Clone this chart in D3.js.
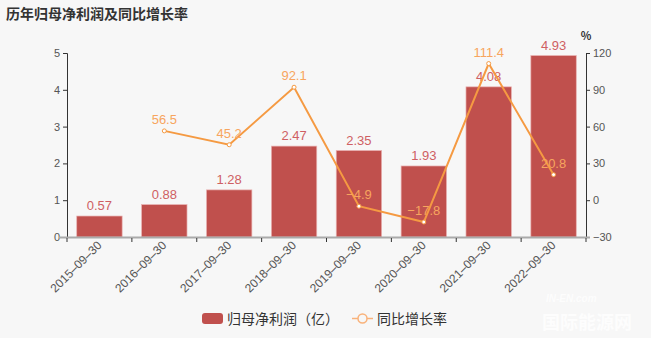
<!DOCTYPE html>
<html>
<head>
<meta charset="utf-8">
<script src="https://cdn.jsdelivr.net/npm/d3@7/dist/d3.min.js"></script>
<style>
  html, body { margin: 0; padding: 0; background: #f7f7f7; }
  svg { display: block; font-family: "Noto Sans CJK SC", "Liberation Sans", Arial, sans-serif; }
</style>
</head>
<body>
<svg id="chart" width="651" height="338"></svg>
<script>
// Reporting dates (fiscal Q3 each year)
const periods = ["2015-09-30", "2016-09-30", "2017-09-30", "2018-09-30", "2019-09-30", "2020-09-30", "2021-09-30", "2022-09-30"];
// Net profit attributable to parent (亿元)
const netProfit = [0.57, 0.88, 1.28, 2.47, 2.35, 1.93, 4.08, 4.93];
// Year-over-year growth (%), none for the first period
const growth = [null, 56.5, 45.2, 92.1, -4.9, -17.8, 111.4, 20.8];
const leftTicks = [0, 1, 2, 3, 4, 5];
const rightTicks = [-30, 0, 30, 60, 90, 120];

const svg = d3.select("#chart");
const W = 651, H = 338;
const m = { left: 67, right: 65, top: 53, bottom: 101 };
const x0 = m.left, x1 = W - m.right, yTop = m.top, yBot = H - m.bottom;

const barColor = "#c0504d";
const barLabelColor = "#cf5f63";
const lineColor = "#f59a42";
const lineLabelColor = "#f7a55e";
const axisText = "#555";

svg.append("rect").attr("width", W).attr("height", H).attr("fill", "#f7f7f7");

// Title
svg.append("text")
  .attr("x", 6).attr("y", 19)
  .attr("font-size", 14).attr("font-weight", "bold").attr("fill", "#333")
  .text("历年归母净利润及同比增长率");

const x = d3.scaleBand().domain(periods).range([x0, x1]).paddingInner(0.3).paddingOuter(0.15);
const yL = d3.scaleLinear().domain([0, 5]).range([yBot, yTop]);
const yR = d3.scaleLinear().domain([-30, 120]).range([yBot, yTop]);

// Left axis
const gL = svg.append("g").attr("transform", `translate(${x0},0)`)
  .call(d3.axisLeft(yL).tickValues(leftTicks).tickSize(4).tickPadding(3).tickFormat(d3.format("d")));
gL.select(".domain").attr("stroke", "#333");
gL.selectAll(".tick line").attr("stroke", "#333");
gL.selectAll(".tick text").attr("font-size", 11).attr("fill", axisText).attr("font-family", "Liberation Sans, Arial, sans-serif");

// Right axis
const gR = svg.append("g").attr("transform", `translate(${x1},0)`)
  .call(d3.axisRight(yR).tickValues(rightTicks).tickSize(4).tickPadding(3)
    .tickFormat(d => d < 0 ? "\u2212" + Math.abs(d) : d));
gR.select(".domain").attr("stroke", "#333");
gR.selectAll(".tick line").attr("stroke", "#333");
gR.selectAll(".tick text").attr("font-size", 11).attr("fill", axisText).attr("font-family", "Liberation Sans, Arial, sans-serif");

svg.append("text").attr("x", x1).attr("y", 40).attr("text-anchor", "middle")
  .attr("font-size", 11).attr("font-weight", "bold").attr("fill", "#333").text("%");

// Bars
svg.append("g").selectAll("rect").data(periods).join("rect")
  .attr("x", d => x(d))
  .attr("y", (d, i) => yL(netProfit[i]))
  .attr("width", x.bandwidth())
  .attr("height", (d, i) => yBot - yL(netProfit[i]))
  .attr("fill", barColor)
  .attr("stroke", "#e9b3b2").attr("stroke-width", 0.7);

// Bar value labels
svg.append("g").selectAll("text").data(periods).join("text")
  .attr("x", d => x(d) + x.bandwidth() / 2)
  .attr("y", (d, i) => yL(netProfit[i]) - 6)
  .attr("text-anchor", "middle")
  .attr("font-size", 13).attr("fill", barLabelColor)
  .attr("font-family", "Liberation Sans, Arial, sans-serif")
  .text((d, i) => netProfit[i].toFixed(2));

// Bottom axis (category ticks on the full band)
const xTickScale = d3.scalePoint().domain(d3.range(periods.length + 1)).range([x0, x1]);
svg.append("line").attr("x1", x0 - 8).attr("x2", x1 + 4).attr("y1", yBot + 0.5).attr("y2", yBot + 0.5)
  .attr("stroke", "#aaa").attr("stroke-width", 2);
svg.append("g").selectAll("line").data(xTickScale.domain()).join("line")
  .attr("x1", d => xTickScale(d)).attr("x2", d => xTickScale(d))
  .attr("y1", yBot + 1).attr("y2", yBot + 5).attr("stroke", "#333");

svg.append("g").selectAll("text").data(periods).join("text")
  .attr("transform", d => `translate(${x(d) + x.bandwidth() / 2 + 3},${yBot + 9}) rotate(-45)`)
  .attr("text-anchor", "end")
  .attr("font-size", 12).attr("fill", axisText)
  .attr("font-family", "Liberation Sans, Arial, sans-serif")
  .text(d => d.replace(/-/g, "\u2013"));

// Growth line
const pts = periods.map((d, i) => ({ d, v: growth[i] })).filter(p => p.v !== null);
const line = d3.line().x(p => x(p.d) + x.bandwidth() / 2).y(p => yR(p.v));
svg.append("path").datum(pts).attr("d", line)
  .attr("fill", "none").attr("stroke", lineColor).attr("stroke-width", 2);
svg.append("g").selectAll("circle").data(pts).join("circle")
  .attr("cx", p => x(p.d) + x.bandwidth() / 2).attr("cy", p => yR(p.v)).attr("r", 2)
  .attr("fill", "#fff").attr("stroke", lineColor).attr("stroke-width", 1);
svg.append("g").selectAll("text").data(pts).join("text")
  .attr("x", p => x(p.d) + x.bandwidth() / 2)
  .attr("y", p => yR(p.v) - 7)
  .attr("text-anchor", "middle")
  .attr("font-size", 13).attr("fill", lineLabelColor)
  .attr("font-family", "Liberation Sans, Arial, sans-serif")
  .text(p => p.v < 0 ? "\u2212" + Math.abs(p.v) : p.v.toFixed(1));

// Legend
const lg = svg.append("g").attr("font-size", 14).attr("fill", "#333");
lg.append("rect").attr("x", 202).attr("y", 313).attr("width", 21).attr("height", 11).attr("rx", 3)
  .attr("fill", barColor);
lg.append("text").attr("x", 227).attr("y", 324).text("归母净利润（亿）");
lg.append("line").attr("x1", 352).attr("x2", 373).attr("y1", 318.5).attr("y2", 318.5)
  .attr("stroke", "#f9b27a").attr("stroke-width", 1.5);
lg.append("circle").attr("cx", 362.5).attr("cy", 318.5).attr("r", 4.5)
  .attr("fill", "#f7f7f7").attr("stroke", "#f9b27a").attr("stroke-width", 1.5);
lg.append("text").attr("x", 377).attr("y", 324).text("同比增长率");

// Site watermark
const wm = svg.append("g").attr("fill", "#fff").attr("opacity", 0.8);
wm.append("text").attr("x", 546).attr("y", 302).attr("font-size", 10).attr("font-weight", "bold")
  .attr("font-style", "italic").attr("font-family", "Liberation Sans, Arial, sans-serif").text("IN-EN.com");
wm.append("text").attr("x", 542).attr("y", 329).attr("font-size", 18).attr("font-weight", "bold").text("国际能源网");
</script>
</body>
</html>
